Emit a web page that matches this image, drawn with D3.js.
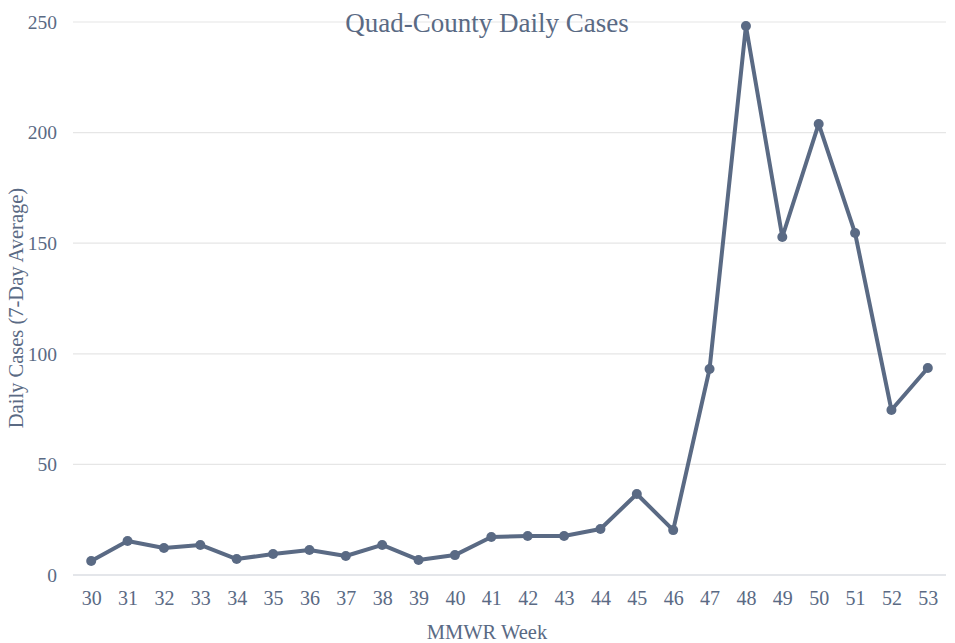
<!DOCTYPE html>
<html>
<head>
<meta charset="utf-8">
<script src="https://cdn.jsdelivr.net/npm/d3@7"></script>
<style>
body { margin: 0; background: #fff; }
svg text { font-family: "Liberation Serif", "Times New Roman", serif; fill: #5a6a84; }
</style>
</head>
<body>
<div id="chart"></div>
<script>
// MMWR weeks and 7-day average daily cases
var weeks = [30, 31, 32, 33, 34, 35, 36, 37, 38, 39, 40, 41, 42, 43, 44, 45, 46, 47, 48, 49, 50, 51, 52, 53];
var cases = [6.3, 15.4, 12.2, 13.6, 7.2, 9.5, 11.3, 8.6, 13.6, 6.8, 9.0, 17.2, 17.6, 17.6, 20.8, 36.6, 20.3, 93.1, 248.2, 152.8, 203.9, 154.6, 74.6, 93.6];
var yTicks = [0, 50, 100, 150, 200, 250];

var width = 955, height = 643;
var margin = { top: 22, right: 9, bottom: 68, left: 73 };
var lineColor = "#5a6a84";

var svg = d3.select("#chart").append("svg")
	.attr("width", width)
	.attr("height", height);

var x = d3.scalePoint()
	.domain(weeks)
	.range([margin.left, width - margin.right])
	.padding(0.5);

var y = d3.scaleLinear()
	.domain([0, 250])
	.range([height - margin.bottom, margin.top]);

// gridlines
svg.append("g")
	.selectAll("line")
	.data(yTicks)
	.join("line")
	.attr("x1", margin.left)
	.attr("x2", width - margin.right)
	.attr("y1", function (d) { return y(d); })
	.attr("y2", function (d) { return y(d); })
	.attr("stroke", function (d) { return d == 0 ? "#c9ced6" : "#e6e6e6"; })
	.attr("stroke-width", 1.2);

// y axis labels
var yAxis = svg.append("g")
	.attr("transform", "translate(" + (margin.left - 16) + ",0)")
	.call(d3.axisLeft(y).tickValues(yTicks).tickSize(0).tickPadding(0));
yAxis.select(".domain").remove();
yAxis.selectAll("text")
	.attr("font-size", "19.5px")
	.attr("fill", lineColor);

// x axis labels
var xAxis = svg.append("g")
	.attr("transform", "translate(0," + (height - margin.bottom) + ")")
	.call(d3.axisBottom(x).tickSize(0).tickPadding(16));
xAxis.select(".domain").remove();
xAxis.selectAll("text")
	.attr("font-size", "20px")
	.attr("fill", lineColor);

// line
var line = d3.line()
	.x(function (d, i) { return x(weeks[i]); })
	.y(function (d) { return y(d); });

svg.append("path")
	.datum(cases)
	.attr("fill", "none")
	.attr("stroke", lineColor)
	.attr("stroke-width", 4)
	.attr("stroke-linejoin", "round")
	.attr("d", line);

svg.append("g")
	.selectAll("circle")
	.data(cases)
	.join("circle")
	.attr("cx", function (d, i) { return x(weeks[i]); })
	.attr("cy", function (d) { return y(d); })
	.attr("r", 5)
	.attr("fill", lineColor);

// titles
svg.append("text")
	.attr("x", 487)
	.attr("y", 32)
	.attr("text-anchor", "middle")
	.attr("font-size", "27px")
	.text("Quad-County Daily Cases");

svg.append("text")
	.attr("x", 487)
	.attr("y", 639)
	.attr("text-anchor", "middle")
	.attr("font-size", "20.5px")
	.text("MMWR Week");

svg.append("text")
	.attr("transform", "translate(23," + 308 + ") rotate(-90)")
	.attr("text-anchor", "middle")
	.attr("font-size", "20.5px")
	.text("Daily Cases (7-Day Average)");
</script>
</body>
</html>
